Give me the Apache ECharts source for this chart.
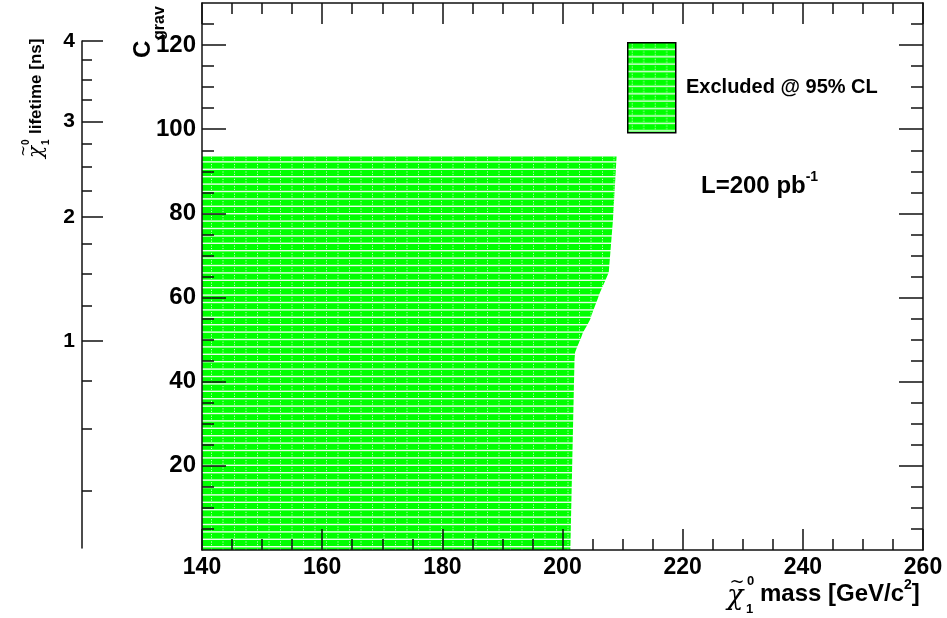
<!DOCTYPE html>
<html>
<head>
<meta charset="utf-8">
<script src="https://cdn.jsdelivr.net/npm/echarts@6/dist/echarts.min.js"></script>
<style>
html,body{margin:0;padding:0;background:#fff;}
#chart{width:947px;height:618px;}
</style>
</head>
<body>
<div id="chart"></div>
<script>
// ---- data ----
const massRange = [140, 260];
const massTickStep = 20;
const cgravRange = [0, 130];
const cgravMajor = [20, 40, 60, 80, 100, 120];
const cgravMinor = [5, 10, 15, 25, 30, 35, 45, 50, 55, 65, 70, 75, 85, 90, 95, 105, 110, 115, 125];
const lifetimeRange = [0.096, 4];
const lifetimeMajor = [1, 2, 3, 4];
const lifetimeMinor = [0.25, 0.5, 0.75, 1.25, 1.5, 1.75, 2.25, 2.5, 2.75, 3.25, 3.5, 3.75];
// excluded region: right boundary (mass) as a function of C_grav
const boundaryC    = [0,     39,    45.3,  47,    48.5,  50.1,  51.7,  53.2,  54.8,  56.5,  58,    59.5,  61.1,  62.7,  64.3,  66,    78.5,  93.5];
const boundaryMass = [201.3, 201.9, 202.0, 202.1, 202.5, 203.0, 203.4, 204.0, 204.6, 205.0, 205.4, 205.8, 206.2, 206.7, 207.2, 207.7, 208.4, 209.0];
const regionMassMin = 140;
const legendLabel = 'Excluded @ 95% CL';
const lumiLabel = 'L=200 pb';
const lumiExp = '-1';

// ---- pattern ----
function makePattern() {
  const c = document.createElement('canvas');
  c.width = 23; c.height = 37;
  const g = c.getContext('2d');
  g.fillStyle = '#00ff00';
  g.fillRect(0, 0, 23, 37);
  g.fillStyle = 'rgba(255,255,255,0.9)';
  for (let r = 0; r < 5; r++) g.fillRect(0, r * 7.4 + 5.8, 23, 1.4);
  g.fillStyle = 'rgba(255,255,255,0.75)';
  for (let col = 0; col < 2; col++) {
    const x = col * 11.5 + 4;
    for (let r = 0; r < 5; r++) {
      g.fillRect(x, r * 7.4 + 1.2, 1, 1.2);
      g.fillRect(x, r * 7.4 + 3.8, 1, 1.2);
    }
  }
  return c;
}
const pat = { image: makePattern(), repeat: 'repeat' };

const FONT = '"Liberation Sans", Arial, sans-serif';
const GREEK = '"DejaVu Serif", "Liberation Serif", serif';
const lblStyle = { fontFamily: FONT, fontWeight: 'bold', fontSize: 23, color: '#000' };
const lineStyle = { color: '#111', width: 1.5 };

const chart = echarts.init(document.getElementById('chart'), null, { renderer: 'canvas' });

const sq = v => Math.sqrt(v);

const option = {
  animation: false,
  backgroundColor: '#fff',
  grid: [
    { left: 202, right: 24, top: 3, bottom: 68 },
    { left: 82, width: 10, top: 41, bottom: 70 }
  ],
  xAxis: [
    { gridIndex: 0, type: 'value', position: 'bottom', min: massRange[0], max: massRange[1], interval: massTickStep, z: 10,
      axisLine: { show: true, onZero: false, lineStyle },
      axisTick: { inside: true, length: 21, lineStyle },
      minorTick: { show: true, splitNumber: 4, length: 11, lineStyle },
      axisLabel: Object.assign({ margin: 6 }, lblStyle),
      splitLine: { show: false } },
    { gridIndex: 0, type: 'value', position: 'top', min: massRange[0], max: massRange[1], interval: massTickStep, z: 10,
      axisLine: { show: true, onZero: false, lineStyle },
      axisTick: { inside: true, length: 21, lineStyle },
      minorTick: { show: true, splitNumber: 4, length: 11, lineStyle },
      axisLabel: { show: false },
      splitLine: { show: false } },
    { gridIndex: 1, type: 'value', show: false, min: 0, max: 1 }
  ],
  yAxis: [
    { gridIndex: 0, type: 'value', position: 'left', min: cgravRange[0], max: cgravRange[1], z: 10,
      axisLine: { show: true, onZero: false, lineStyle },
      axisTick: { inside: true, length: 24, lineStyle, customValues: cgravMajor },
      axisLabel: Object.assign({ margin: 6, customValues: cgravMajor }, lblStyle, { fontSize: 24 }),
      splitLine: { show: false } },
    { gridIndex: 0, type: 'value', position: 'left', min: cgravRange[0], max: cgravRange[1], z: 10,
      axisLine: { show: false },
      axisTick: { inside: true, length: 12, lineStyle, customValues: cgravMinor },
      axisLabel: { show: false },
      splitLine: { show: false } },
    { gridIndex: 0, type: 'value', position: 'right', min: cgravRange[0], max: cgravRange[1], z: 10,
      axisLine: { show: true, onZero: false, lineStyle },
      axisTick: { inside: true, length: 24, lineStyle, customValues: cgravMajor },
      axisLabel: { show: false },
      splitLine: { show: false } },
    { gridIndex: 0, type: 'value', position: 'right', min: cgravRange[0], max: cgravRange[1], z: 10,
      axisLine: { show: false },
      axisTick: { inside: true, length: 12, lineStyle, customValues: cgravMinor },
      axisLabel: { show: false },
      splitLine: { show: false } },
    // lifetime axis (sqrt scale)
    { gridIndex: 1, type: 'value', position: 'left', min: sq(lifetimeRange[0]), max: sq(lifetimeRange[1]), z: 10,
      axisLine: { show: true, onZero: false, lineStyle },
      axisTick: { inside: true, length: 21, lineStyle, customValues: lifetimeMajor.map(sq) },
      axisLabel: Object.assign({ margin: 7, customValues: lifetimeMajor.map(sq),
        formatter: v => String(Math.round(v * v)) }, lblStyle, { fontSize: 21 }),
      splitLine: { show: false } },
    { gridIndex: 1, type: 'value', position: 'left', min: sq(lifetimeRange[0]), max: sq(lifetimeRange[1]), z: 10,
      axisLine: { show: false },
      axisTick: { inside: true, length: 10, lineStyle, customValues: lifetimeMinor.map(sq) },
      axisLabel: { show: false },
      splitLine: { show: false } }
  ],
  series: [
    {
      type: 'custom',
      name: legendLabel,
      xAxisIndex: 0, yAxisIndex: 0,
      clip: true,
      z: 2,
      data: boundaryC.map((c, i) => [boundaryMass[i], c]),
      renderItem: function (params, api) {
        if (params.dataIndex !== 0) return null;
        const pts = [api.coord([regionMassMin, boundaryC[0]])];
        for (let i = 0; i < boundaryC.length; i++) pts.push(api.coord([boundaryMass[i], boundaryC[i]]));
        pts.push(api.coord([regionMassMin, boundaryC[boundaryC.length - 1]]));
        return { type: 'polygon', shape: { points: pts }, style: { fill: pat, stroke: null } };
      }
    }
  ],
  graphic: [
    // legend box
    { type: 'rect', left: 627, top: 42, shape: { x: 0, y: 0, width: 48, height: 90 },
      style: { fill: pat, stroke: '#000', lineWidth: 1.5 }, z: 20 },
    { type: 'text', x: 686, y: 87, z: 20,
      style: { text: legendLabel, font: 'bold 20px ' + FONT, fill: '#000', align: 'left', verticalAlign: 'middle' } },
    // luminosity
    { type: 'text', x: 701, y: 184, z: 20,
      style: { text: '{m|' + lumiLabel + '}{s|' + lumiExp + '}', align: 'left', verticalAlign: 'middle',
        rich: { m: { fontFamily: FONT, fontWeight: 'bold', fontSize: 24, lineHeight: 28, fill: '#000', verticalAlign: 'bottom' },
                s: { fontFamily: FONT, fontWeight: 'bold', fontSize: 14, lineHeight: 28, fill: '#000', verticalAlign: 'top' } } } },
    // C_grav title
    { type: 'text', x: 155, y: 58, rotation: Math.PI / 2, z: 20,
      style: { text: 'C', font: 'bold 24px ' + FONT, fill: '#000', align: 'left', verticalAlign: 'bottom' } },
    { type: 'text', x: 168, y: 40, rotation: Math.PI / 2, z: 20,
      style: { text: 'grav', font: 'bold 16px ' + FONT, fill: '#000', align: 'left', verticalAlign: 'bottom' } },
    // x title: chi-tilde with stacked indices
    { type: 'text', x: 727, y: 610, z: 20,
      style: { text: 'χ', font: 'italic 27px ' + GREEK, fill: '#000', align: 'left', verticalAlign: 'bottom' } },
    { type: 'text', x: 737, y: 582, z: 20,
      style: { text: '~', font: '18px ' + GREEK, fill: '#000', align: 'center', verticalAlign: 'middle' } },
    { type: 'text', x: 747, y: 588, z: 20,
      style: { text: '0', font: 'bold 13px ' + FONT, fill: '#000', align: 'left', verticalAlign: 'bottom' } },
    { type: 'text', x: 746, y: 616, z: 20,
      style: { text: '1', font: 'bold 13px ' + FONT, fill: '#000', align: 'left', verticalAlign: 'bottom' } },
    { type: 'text', x: 760, y: 592, z: 20,
      style: { text: '{m|mass [GeV/c}{s|2}{m|]}', align: 'left', verticalAlign: 'middle',
        rich: { m: { fontFamily: FONT, fontWeight: 'bold', fontSize: 24, lineHeight: 28, fill: '#000', verticalAlign: 'bottom' },
                s: { fontFamily: FONT, fontWeight: 'bold', fontSize: 14, lineHeight: 28, fill: '#000', verticalAlign: 'top' } } } },
    // lifetime title (rotated, reads upward)
    { type: 'text', x: 47, y: 158, rotation: Math.PI / 2, z: 20,
      style: { text: 'χ', font: 'italic 20px ' + GREEK, fill: '#000', align: 'left', verticalAlign: 'bottom' } },
    { type: 'text', x: 24, y: 151, rotation: Math.PI / 2, z: 20,
      style: { text: '~', font: '14px ' + GREEK, fill: '#000', align: 'center', verticalAlign: 'middle' } },
    { type: 'text', x: 31, y: 145, rotation: Math.PI / 2, z: 20,
      style: { text: '0', font: 'bold 10px ' + FONT, fill: '#000', align: 'left', verticalAlign: 'bottom' } },
    { type: 'text', x: 51, y: 145, rotation: Math.PI / 2, z: 20,
      style: { text: '1', font: 'bold 10px ' + FONT, fill: '#000', align: 'left', verticalAlign: 'bottom' } },
    { type: 'text', x: 45, y: 134, rotation: Math.PI / 2, z: 20,
      style: { text: 'lifetime [ns]', font: 'bold 17px ' + FONT, fill: '#000', align: 'left', verticalAlign: 'bottom' } }
  ]
};
chart.setOption(option);
</script>
</body>
</html>
